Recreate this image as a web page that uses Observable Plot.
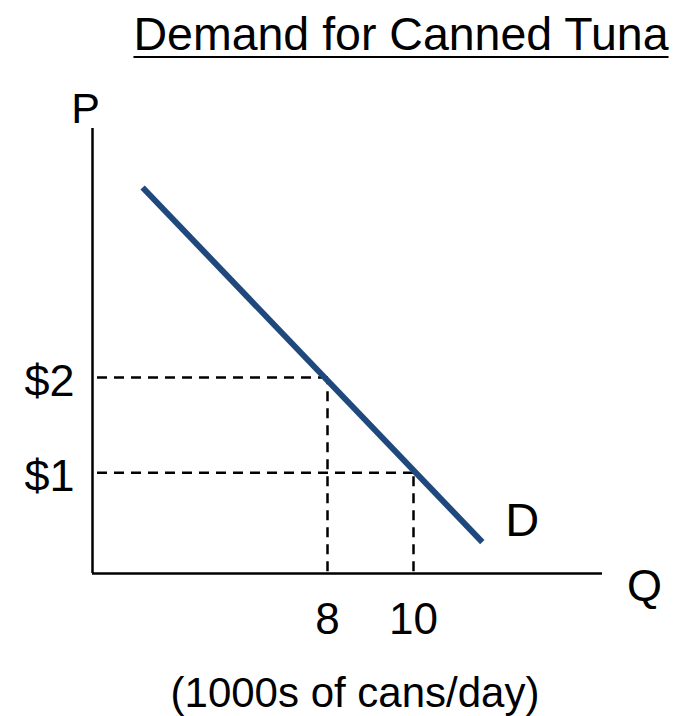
<!DOCTYPE html>
<html>
<head>
<meta charset="utf-8">
<script src="https://cdn.jsdelivr.net/npm/d3@7"></script>
<script src="https://cdn.jsdelivr.net/npm/@observablehq/plot@0.6"></script>
<style>
  html, body { margin: 0; padding: 0; background: #fff; }
  #wrap { position: relative; width: 679px; height: 716px; overflow: hidden; font-family: "Liberation Sans", Arial, sans-serif; color: #000; }
  #title { position: absolute; left: 0; top: 12px; width: 556px; padding-left: 123px; text-align: center; font-size: 46.5px; line-height: 44px; text-decoration: underline; text-decoration-thickness: 2px; text-underline-offset: 6px; white-space: nowrap; }
  #chart { position: absolute; left: 0; top: 80px; }
  #caption { position: absolute; left: 0; top: 671px; width: 648px; padding-left: 31px; text-align: center; font-size: 42px; line-height: 44px; white-space: nowrap; }
</style>
</head>
<body>
<div id="wrap">
  <div id="title"></div>
  <div id="chart"></div>
  <div id="caption"></div>
</div>
<script>
const titleText = "Demand for Canned Tuna";
const captionText = "(1000s of cans/day)";
const xAxisLabel = "Q";
const yAxisLabel = "P";
const curveLabel = "D";
const qTicks = [8, 10];
const qTickLabels = ["8", "10"];
const pTicks = [2, 1];
const pTickLabels = ["$2", "$1"];
const demandQ = [3.7, 11.6];
const demandP = [4.0, 0.27];
const qDomain = [2.535, 14.395];
const pDomain = [-0.06, 4.62];

document.getElementById("title").textContent = titleText;
document.getElementById("caption").textContent = captionText;

const demand = demandQ.map((q, i) => ({q, p: demandP[i]}));
const guides = qTicks.map((q, i) => ({q, p: pTicks[i]}));
const font = "Liberation Sans, Arial, sans-serif";

const chart = Plot.plot({
  width: 679,
  height: 560,
  marginLeft: 92,
  marginRight: 77,
  marginTop: 48,
  marginBottom: 67,
  style: {fontFamily: font, background: "transparent", overflow: "visible"},
  x: {domain: qDomain, axis: null},
  y: {domain: pDomain, axis: null},
  marks: [
    // dashed guides
    Plot.ruleY(guides, {y: "p", x1: () => qDomain[0], x2: "q", stroke: "#000", strokeWidth: 2.5, strokeDasharray: "10,7", dx: 5}),
    Plot.ruleX(guides, {x: "q", y1: () => 0, y2: "p", stroke: "#000", strokeWidth: 2.5, strokeDasharray: "10,7", dy: 4}),
    // axes
    Plot.ruleX([qDomain[0]], {y1: () => pDomain[0], y2: () => pDomain[1], stroke: "#000", strokeWidth: 2.5}),
    Plot.ruleY([pDomain[0]], {x1: () => qDomain[0], x2: () => qDomain[1], stroke: "#000", strokeWidth: 2.5}),
    // demand curve
    Plot.line(demand, {x: "q", y: "p", stroke: "#1f497d", strokeWidth: 6, strokeLinecap: "butt"}),
    // tick labels
    Plot.text(qTicks, {x: d => d, y: () => pDomain[0], text: (d, i) => qTickLabels[i], dy: 46, fontSize: 44, fill: "#000"}),
    Plot.text(pTicks, {x: () => qDomain[0], y: d => d, text: (d, i) => pTickLabels[i], dx: -18, dy: 4, textAnchor: "end", fontSize: 45, fill: "#000"}),
    // axis labels
    Plot.text([yAxisLabel], {x: () => qDomain[0], y: () => pDomain[1], text: d => d, dx: -7, dy: -19, fontSize: 43, fill: "#000"}),
    Plot.text([xAxisLabel], {x: () => qDomain[1], y: () => pDomain[0], text: d => d, dx: 42, dy: 13, fontSize: 45, fill: "#000"}),
    Plot.text([curveLabel], {x: () => demandQ[demandQ.length - 1], y: () => demandP[demandP.length - 1], text: d => d, dx: 40, dy: -21, fontSize: 47, fill: "#000"})
  ]
});
document.getElementById("chart").appendChild(chart);
</script>
</body>
</html>
